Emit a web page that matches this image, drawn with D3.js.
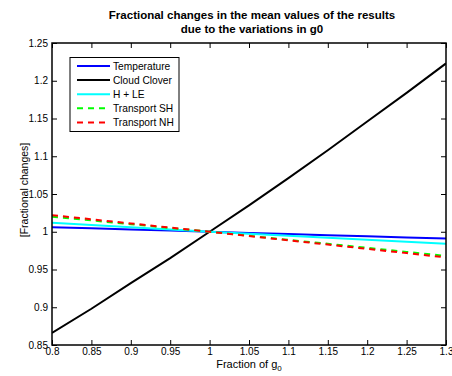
<!DOCTYPE html>
<html><head><meta charset="utf-8">
<script src="https://cdn.jsdelivr.net/npm/d3@7"></script>
<style>body{margin:0;background:#fff}text{font-family:"Liberation Sans",Arial,sans-serif}</style>
</head><body>
<svg id="c" width="452" height="376"></svg>
<script>
const xVals = [0.8,0.85,0.9,0.95,1,1.05,1.1,1.15,1.2,1.25,1.3];
const temperature = [1.006,1.0045,1.003,1.0015,1,0.9985,0.997,0.9955,0.994,0.9925,0.991];
const cloudCover = [0.866,0.898,0.932,0.965,1,1.035,1.071,1.108,1.146,1.184,1.223];
const hle = [1.012,1.009,1.006,1.003,1,0.9973,0.9947,0.992,0.9893,0.9867,0.984];
const transportSH = [1.020,1.015,1.010,1.005,1,0.9947,0.9893,0.984,0.9787,0.9733,0.968];
const transportNH = [1.022,1.0165,1.011,1.0055,1,0.9943,0.9887,0.983,0.9773,0.9717,0.966];
const xTicks = [0.8,0.85,0.9,0.95,1,1.05,1.1,1.15,1.2,1.25,1.3];
const yTicks = [0.85,0.9,0.95,1,1.05,1.1,1.15,1.2,1.25];
const seriesNames = ["Temperature","Cloud Clover","H + LE","Transport SH","Transport NH"];
const seriesColors = ["#0000ff","#000000","#00ffff","#00ff00","#ff0000"];
const seriesDash = [null,null,null,"6,5","6,5"];
const seriesData = [temperature,cloudCover,hle,transportSH,transportNH];

const svg = d3.select("#c");
const L=52,R=446,T=43,B=345;
const x = d3.scaleLinear().domain([0.8,1.3]).range([L,R]);
const y = d3.scaleLinear().domain([0.85,1.25]).range([B,T]);
const fmt = d => String(+d.toFixed(2));

const g = svg.append("g");
svg.append("defs").append("clipPath").attr("id","cp").append("rect").attr("x",L).attr("y",T).attr("width",R-L).attr("height",B-T);

const line = d3.line().x((d,i)=>x(xVals[i])).y(d=>y(d));
seriesData.forEach((s,k)=>{
  g.append("path").attr("d",line(s)).attr("fill","none").attr("stroke",seriesColors[k])
   .attr("stroke-width",2).attr("stroke-dasharray",seriesDash[k]).attr("clip-path","url(#cp)");
});

const ax = (sel)=>sel.call(s=>s.select(".domain").remove()).call(s=>s.selectAll("line").attr("stroke","#000"));
svg.append("g").attr("transform",`translate(0,${B})`).call(d3.axisBottom(x).tickValues(xTicks).tickFormat(fmt).tickSizeInner(-5).tickSizeOuter(0).tickPadding(4))
  .call(ax).call(s=>s.selectAll("text").attr("font-size",10).attr("fill","#000").attr("font-family","Liberation Sans, Arial, sans-serif").attr("dy","0.55em"));
svg.append("g").attr("transform",`translate(0,${T})`).call(d3.axisTop(x).tickValues(xTicks).tickFormat("").tickSizeInner(-5).tickSizeOuter(0)).call(ax);
svg.append("g").attr("transform",`translate(${L},0)`).call(d3.axisLeft(y).tickValues(yTicks).tickFormat(fmt).tickSizeInner(-5).tickSizeOuter(0).tickPadding(4))
  .call(ax).call(s=>s.selectAll("text").attr("font-size",10).attr("fill","#000").attr("font-family","Liberation Sans, Arial, sans-serif"));
svg.append("g").attr("transform",`translate(${R},0)`).call(d3.axisRight(y).tickValues(yTicks).tickFormat("").tickSizeInner(-5).tickSizeOuter(0)).call(ax);
svg.append("rect").attr("x",L).attr("y",T).attr("width",R-L).attr("height",B-T).attr("fill","none").attr("stroke","#000").attr("stroke-width",1.5);

const title = svg.append("text").attr("text-anchor","middle").attr("font-weight","bold").attr("font-size",11.5);
title.append("tspan").attr("x",252).attr("y",19).text("Fractional changes in the mean values of the results");
title.append("tspan").attr("x",252).attr("y",33).text("due to the variations in g0");

const xl = svg.append("text").attr("x",249).attr("y",368).attr("text-anchor","middle").attr("font-size",11);
xl.append("tspan").text("Fraction of g");
xl.append("tspan").attr("font-size",8).attr("dy",3).text("0");
svg.append("text").attr("transform","translate(28,190) rotate(-90)").attr("text-anchor","middle").attr("font-size",10.5).text("[Fractional changes]");

const lg = svg.append("g");
lg.append("rect").attr("x",70).attr("y",57.5).attr("width",109).attr("height",74).attr("fill","#fff").attr("stroke","#000").attr("stroke-width",1);
seriesNames.forEach((n,k)=>{
  const yy = 66+k*14.1;
  lg.append("line").attr("x1",77).attr("x2",110).attr("y1",yy).attr("y2",yy).attr("stroke",seriesColors[k]).attr("stroke-width",2).attr("stroke-dasharray",seriesDash[k]);
  lg.append("text").attr("x",113).attr("y",yy).attr("dy","0.35em").attr("font-size",10.2).text(n);
});
</script>
</body></html>
